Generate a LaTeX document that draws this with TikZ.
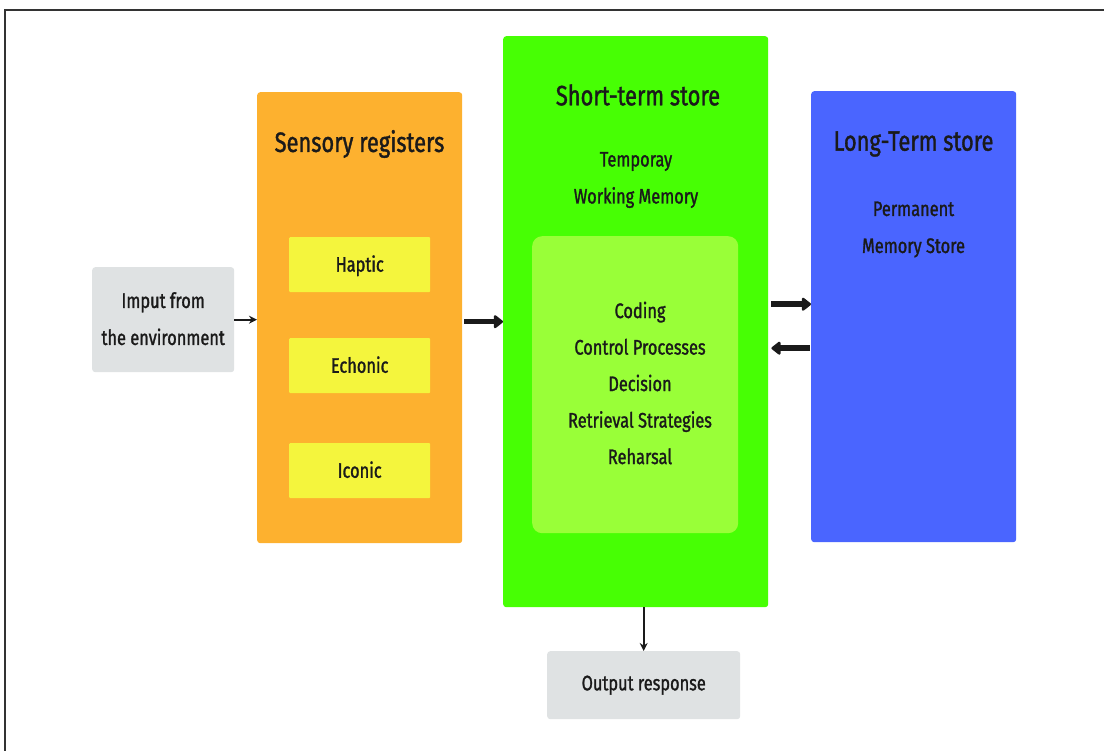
\documentclass[tikz,border=0pt]{standalone}
\usepackage{fontspec}
\setmainfont{Fira Sans}[FakeStretch=0.78, FakeBold=1.3]
\usetikzlibrary{arrows.meta}
\definecolor{envgray}{HTML}{DFE2E3}
\definecolor{sensorange}{HTML}{FDB12F}
\definecolor{regyellow}{HTML}{F4F53D}
\definecolor{stsgreen}{HTML}{47FF04}
\definecolor{procgreen}{HTML}{99FF38}
\definecolor{ltsblue}{HTML}{4A65FF}
\definecolor{txt}{HTML}{1A1A1A}
\tikzset{
  panel/.style={fill=#1, draw=none, rounded corners=3pt, inner sep=0pt, anchor=north west},
  title/.style={text=txt, font=\fontsize{28}{30}\selectfont},
  body/.style={text=txt, font=\fontsize{21}{37}\selectfont, align=center},
  thinarrow/.style={line width=2pt, txt, -{Stealth[length=8pt,width=8pt]}},
  bigarrow/.style={line width=5.5pt, txt, -{Triangle[length=10pt,width=15pt,round]}},
}
\begin{document}
\begin{tikzpicture}[x=1pt,y=-1pt]
  \useasboundingbox (0,0) rectangle (1104,751);
  % page frame (top and left edges)
  \draw[line width=2pt, black!80] (5,751) -- (5,10) -- (1104,10);

  % input
  \node[panel=envgray, minimum width=142pt, minimum height=105pt] (inp) at (92,267) {};
  \node[body] (inptxt) at ([yshift=1pt]inp.center) {Imput from\\the environment};

  % sensory registers
  \node[panel=sensorange, minimum width=205pt, minimum height=451pt] (sens) at (257,92) {};
  \node[title] (senstitle) at (359.5,144) {Sensory registers};
  \node[panel=regyellow, rounded corners=1pt, minimum width=141pt, minimum height=55pt] (hap) at (289,237) {};
  \node[panel=regyellow, rounded corners=1pt, minimum width=141pt, minimum height=55pt] (ech) at (289,338) {};
  \node[panel=regyellow, rounded corners=1pt, minimum width=141pt, minimum height=55pt] (ico) at (289,443) {};
  \node[body] (haptxt) at ([yshift=-1pt]hap.center) {Haptic};
  \node[body] (echtxt) at ([yshift=1pt]ech.center) {Echonic};
  \node[body] (icotxt) at ([yshift=1pt]ico.center) {Iconic};

  % short-term store
  \node[panel=stsgreen, minimum width=265pt, minimum height=571pt] (sts) at (503,36) {};
  \node[title] (ststitle) at (638,95) {Short-term store};
  \node[body] (ststxt) at (636,180) {Temporay\\Working Memory};
  \node[panel=procgreen, rounded corners=10pt, minimum width=206pt, minimum height=297pt] (proc) at (532,236) {};
  \node[body, font=\fontsize{21}{36.5}\selectfont] (proctxt) at (640,383) {Coding\\Control Processes\\Decision\\Retrieval Strategies\\Reharsal};

  % long-term store
  \node[panel=ltsblue, minimum width=205pt, minimum height=451pt] (lts) at (811,91) {};
  \node[title] (ltstitle) at (913.5,144) {Long-Term store};
  \node[body] (ltstxt) at (913.5,229.5) {Permanent\\Memory Store};

  % output
  \node[panel=envgray, minimum width=193pt, minimum height=68pt] (outp) at (547,651) {};
  \node[body] (outptxt) at (outp.center) {Output response};

  % connectors
  \draw[thinarrow] (inp.east) -- (inp.east -| sens.west);
  \draw[bigarrow, shorten <=2pt] (sts.west -| sens.east) -- (sts.west);
  \draw[bigarrow, shorten <=3pt] ([yshift=12.5pt]lts.west -| sts.east) -- ([yshift=12.5pt]lts.west);
  \draw[bigarrow, shorten <=1pt, shorten >=3pt] ([yshift=-31.5pt]lts.west) -- ([yshift=-31.5pt]lts.west -| sts.east);
  \draw[thinarrow] (outp.north |- sts.south) -- (outp.north);
\end{tikzpicture}
\end{document}
